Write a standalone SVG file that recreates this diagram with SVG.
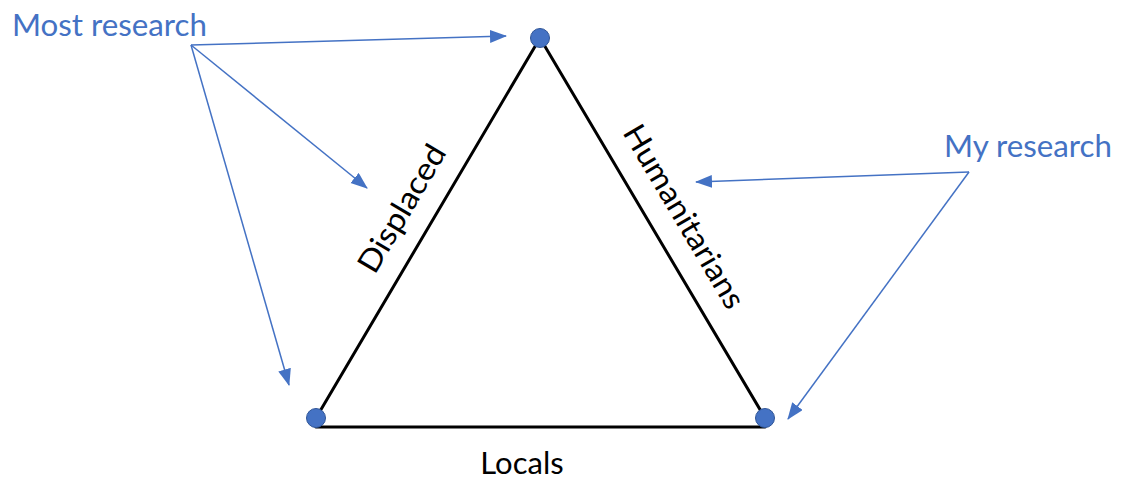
<svg xmlns="http://www.w3.org/2000/svg" width="1123" height="479" viewBox="0 0 1123 479">
<style>
.lbl{font-family:"Lato","Liberation Sans",sans-serif;}
.blue{fill:#4472C4;font-size:31px;}
.blk{fill:#000;font-size:31px;}
.edge{stroke:#000;stroke-width:3;fill:none;stroke-linecap:round;}
.arr{stroke:#4472C4;stroke-width:1.5;fill:none;marker-end:url(#ah);}
.dot{fill:#4472C4;stroke:#2F5597;stroke-width:1;}
</style>
<defs>
<marker id="ah" markerUnits="userSpaceOnUse" markerWidth="18" markerHeight="14" refX="16" refY="6.5" orient="auto">
<path d="M0,0 L17,6.5 L0,13 Z" fill="#4472C4"/>
</marker>
</defs>
<rect width="1123" height="479" fill="#fff"/>
<g id="edges">
<line class="edge" x1="540" y1="38" x2="316" y2="418"/>
<line class="edge" x1="540" y1="38" x2="765" y2="418"/>
<line class="edge" x1="316" y1="427" x2="765" y2="427"/>
</g>
<g id="connectors">
<line class="arr" x1="191" y1="45" x2="506" y2="36"/>
<line class="arr" x1="191" y1="45" x2="367" y2="188"/>
<line class="arr" x1="191" y1="45" x2="289" y2="385"/>
<line class="arr" x1="969" y1="172" x2="696" y2="182"/>
<line class="arr" x1="969" y1="172" x2="788" y2="419"/>
</g>
<g id="node-top"><circle class="dot" cx="540" cy="38" r="9.5"/></g>
<g id="node-left"><circle class="dot" cx="316" cy="418" r="9.5"/></g>
<g id="node-right"><circle class="dot" cx="765" cy="418" r="9.5"/></g>
<g id="label-most"><text class="lbl blue" x="12" y="36" textLength="195" lengthAdjust="spacingAndGlyphs">Most research</text></g>
<g id="label-my"><text class="lbl blue" x="944" y="157" textLength="168" lengthAdjust="spacingAndGlyphs">My research</text></g>
<g id="label-displaced"><text class="lbl blk" text-anchor="middle" textLength="143" lengthAdjust="spacingAndGlyphs" transform="translate(411,214) rotate(-59.5)">Displaced</text></g>
<g id="label-humanitarians"><text class="lbl blk" text-anchor="middle" textLength="208" lengthAdjust="spacingAndGlyphs" transform="translate(675,222) rotate(59.4)">Humanitarians</text></g>
<g id="label-locals"><text class="lbl blk" text-anchor="middle" x="522" y="474">Locals</text></g>
</svg>
